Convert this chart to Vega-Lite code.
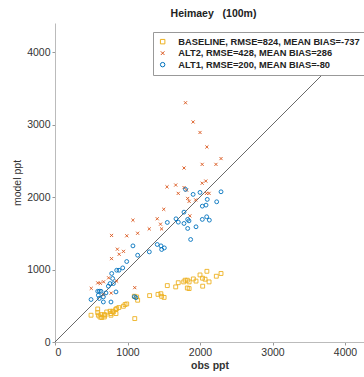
{
  "$schema": "https://vega.github.io/schema/vega-lite/v6.json",
  "width": 309,
  "height": 319,
  "autosize": {"type": "none"},
  "padding": {"left": 55, "top": 23, "right": 0, "bottom": 35},
  "background": "white",
  "title": {
    "text": "Heimaey\u00a0\u00a0\u00a0(100m)",
    "font": "Liberation Sans",
    "fontSize": 10.5,
    "fontWeight": "bold",
    "color": "#222",
    "anchor": "middle",
    "dx": 4,
    "offset": 4
  },
  "config": {
    "view": {"stroke": null},
    "axis": {
      "labelFont": "Liberation Sans",
      "labelFontSize": 10.5,
      "labelColor": "#333",
      "titleFont": "Liberation Sans",
      "titleFontSize": 10.5,
      "titleFontWeight": "bold",
      "titleColor": "#333",
      "domainColor": "#bbb",
      "tickColor": "#999",
      "grid": false,
      "format": "d"
    }
  },
  "datasets": {
    "pts": [
      {"series": "BASELINE, RMSE=824, MEAN BIAS=-737", "obs": 2290, "model": 945},
      {"series": "BASELINE, RMSE=824, MEAN BIAS=-737", "obs": 2225, "model": 907},
      {"series": "BASELINE, RMSE=824, MEAN BIAS=-737", "obs": 2095, "model": 975},
      {"series": "BASELINE, RMSE=824, MEAN BIAS=-737", "obs": 2000, "model": 925},
      {"series": "BASELINE, RMSE=824, MEAN BIAS=-737", "obs": 2035, "model": 880},
      {"series": "BASELINE, RMSE=824, MEAN BIAS=-737", "obs": 2070, "model": 866},
      {"series": "BASELINE, RMSE=824, MEAN BIAS=-737", "obs": 2125, "model": 829},
      {"series": "BASELINE, RMSE=824, MEAN BIAS=-737", "obs": 2037, "model": 770},
      {"series": "BASELINE, RMSE=824, MEAN BIAS=-737", "obs": 1908, "model": 870},
      {"series": "BASELINE, RMSE=824, MEAN BIAS=-737", "obs": 1945, "model": 840},
      {"series": "BASELINE, RMSE=824, MEAN BIAS=-737", "obs": 1825, "model": 852},
      {"series": "BASELINE, RMSE=824, MEAN BIAS=-737", "obs": 1795, "model": 852},
      {"series": "BASELINE, RMSE=824, MEAN BIAS=-737", "obs": 1775, "model": 829},
      {"series": "BASELINE, RMSE=824, MEAN BIAS=-737", "obs": 1850, "model": 829},
      {"series": "BASELINE, RMSE=824, MEAN BIAS=-737", "obs": 1850, "model": 737},
      {"series": "BASELINE, RMSE=824, MEAN BIAS=-737", "obs": 1825, "model": 745},
      {"series": "BASELINE, RMSE=824, MEAN BIAS=-737", "obs": 1700, "model": 818},
      {"series": "BASELINE, RMSE=824, MEAN BIAS=-737", "obs": 1665, "model": 760},
      {"series": "BASELINE, RMSE=824, MEAN BIAS=-737", "obs": 1549, "model": 778},
      {"series": "BASELINE, RMSE=824, MEAN BIAS=-737", "obs": 1420, "model": 657},
      {"series": "BASELINE, RMSE=824, MEAN BIAS=-737", "obs": 1460, "model": 666},
      {"series": "BASELINE, RMSE=824, MEAN BIAS=-737", "obs": 1471, "model": 630},
      {"series": "BASELINE, RMSE=824, MEAN BIAS=-737", "obs": 1505, "model": 615},
      {"series": "BASELINE, RMSE=824, MEAN BIAS=-737", "obs": 1305, "model": 640},
      {"series": "BASELINE, RMSE=824, MEAN BIAS=-737", "obs": 1140, "model": 576},
      {"series": "BASELINE, RMSE=824, MEAN BIAS=-737", "obs": 1100, "model": 323},
      {"series": "BASELINE, RMSE=824, MEAN BIAS=-737", "obs": 1126, "model": 622},
      {"series": "BASELINE, RMSE=824, MEAN BIAS=-737", "obs": 1094, "model": 631},
      {"series": "BASELINE, RMSE=824, MEAN BIAS=-737", "obs": 989, "model": 525},
      {"series": "BASELINE, RMSE=824, MEAN BIAS=-737", "obs": 966, "model": 516},
      {"series": "BASELINE, RMSE=824, MEAN BIAS=-737", "obs": 943, "model": 493},
      {"series": "BASELINE, RMSE=824, MEAN BIAS=-737", "obs": 880, "model": 475},
      {"series": "BASELINE, RMSE=824, MEAN BIAS=-737", "obs": 851, "model": 461},
      {"series": "BASELINE, RMSE=824, MEAN BIAS=-737", "obs": 837, "model": 447},
      {"series": "BASELINE, RMSE=824, MEAN BIAS=-737", "obs": 795, "model": 424},
      {"series": "BASELINE, RMSE=824, MEAN BIAS=-737", "obs": 805, "model": 414},
      {"series": "BASELINE, RMSE=824, MEAN BIAS=-737", "obs": 772, "model": 392},
      {"series": "BASELINE, RMSE=824, MEAN BIAS=-737", "obs": 841, "model": 392},
      {"series": "BASELINE, RMSE=824, MEAN BIAS=-737", "obs": 759, "model": 424},
      {"series": "BASELINE, RMSE=824, MEAN BIAS=-737", "obs": 713, "model": 414},
      {"series": "BASELINE, RMSE=824, MEAN BIAS=-737", "obs": 690, "model": 369},
      {"series": "BASELINE, RMSE=824, MEAN BIAS=-737", "obs": 680, "model": 378},
      {"series": "BASELINE, RMSE=824, MEAN BIAS=-737", "obs": 634, "model": 378},
      {"series": "BASELINE, RMSE=824, MEAN BIAS=-737", "obs": 589, "model": 406},
      {"series": "BASELINE, RMSE=824, MEAN BIAS=-737", "obs": 589, "model": 455},
      {"series": "BASELINE, RMSE=824, MEAN BIAS=-737", "obs": 497, "model": 369},
      {"series": "BASELINE, RMSE=824, MEAN BIAS=-737", "obs": 598, "model": 369},
      {"series": "BASELINE, RMSE=824, MEAN BIAS=-737", "obs": 620, "model": 345},
      {"series": "BASELINE, RMSE=824, MEAN BIAS=-737", "obs": 644, "model": 337},
      {"series": "BASELINE, RMSE=824, MEAN BIAS=-737", "obs": 680, "model": 345},
      {"series": "BASELINE, RMSE=824, MEAN BIAS=-737", "obs": 772, "model": 369},

      {"series": "ALT2, RMSE=428, MEAN BIAS=286", "obs": 1800, "model": 3300},
      {"series": "ALT2, RMSE=428, MEAN BIAS=286", "obs": 1905, "model": 3035},
      {"series": "ALT2, RMSE=428, MEAN BIAS=286", "obs": 2000, "model": 2890},
      {"series": "ALT2, RMSE=428, MEAN BIAS=286", "obs": 2095, "model": 2690},
      {"series": "ALT2, RMSE=428, MEAN BIAS=286", "obs": 2290, "model": 2530},
      {"series": "ALT2, RMSE=428, MEAN BIAS=286", "obs": 2030, "model": 2450},
      {"series": "ALT2, RMSE=428, MEAN BIAS=286", "obs": 2220, "model": 2450},
      {"series": "ALT2, RMSE=428, MEAN BIAS=286", "obs": 1780, "model": 2400},
      {"series": "ALT2, RMSE=428, MEAN BIAS=286", "obs": 1545, "model": 2140},
      {"series": "ALT2, RMSE=428, MEAN BIAS=286", "obs": 1665, "model": 2165},
      {"series": "ALT2, RMSE=428, MEAN BIAS=286", "obs": 1700, "model": 2050},
      {"series": "ALT2, RMSE=428, MEAN BIAS=286", "obs": 1780, "model": 2130},
      {"series": "ALT2, RMSE=428, MEAN BIAS=286", "obs": 1815, "model": 2095},
      {"series": "ALT2, RMSE=428, MEAN BIAS=286", "obs": 2030, "model": 2190},
      {"series": "ALT2, RMSE=428, MEAN BIAS=286", "obs": 2080, "model": 2220},
      {"series": "ALT2, RMSE=428, MEAN BIAS=286", "obs": 2090, "model": 2050},
      {"series": "ALT2, RMSE=428, MEAN BIAS=286", "obs": 2125, "model": 2050},
      {"series": "ALT2, RMSE=428, MEAN BIAS=286", "obs": 1830, "model": 1980},
      {"series": "ALT2, RMSE=428, MEAN BIAS=286", "obs": 1850, "model": 1940},
      {"series": "ALT2, RMSE=428, MEAN BIAS=286", "obs": 1940, "model": 1960},
      {"series": "ALT2, RMSE=428, MEAN BIAS=286", "obs": 1500, "model": 1830},
      {"series": "ALT2, RMSE=428, MEAN BIAS=286", "obs": 1075, "model": 1680},
      {"series": "ALT2, RMSE=428, MEAN BIAS=286", "obs": 1410, "model": 1700},
      {"series": "ALT2, RMSE=428, MEAN BIAS=286", "obs": 1455, "model": 1625},
      {"series": "ALT2, RMSE=428, MEAN BIAS=286", "obs": 1470, "model": 1560},
      {"series": "ALT2, RMSE=428, MEAN BIAS=286", "obs": 1300, "model": 1560},
      {"series": "ALT2, RMSE=428, MEAN BIAS=286", "obs": 1860, "model": 1740},
      {"series": "ALT2, RMSE=428, MEAN BIAS=286", "obs": 1140, "model": 1500},
      {"series": "ALT2, RMSE=428, MEAN BIAS=286", "obs": 990, "model": 1465},
      {"series": "ALT2, RMSE=428, MEAN BIAS=286", "obs": 780, "model": 1470},
      {"series": "ALT2, RMSE=428, MEAN BIAS=286", "obs": 860, "model": 1280},
      {"series": "ALT2, RMSE=428, MEAN BIAS=286", "obs": 945, "model": 1250},
      {"series": "ALT2, RMSE=428, MEAN BIAS=286", "obs": 885, "model": 1210},
      {"series": "ALT2, RMSE=428, MEAN BIAS=286", "obs": 780, "model": 1150},
      {"series": "ALT2, RMSE=428, MEAN BIAS=286", "obs": 590, "model": 815},
      {"series": "ALT2, RMSE=428, MEAN BIAS=286", "obs": 625, "model": 810},
      {"series": "ALT2, RMSE=428, MEAN BIAS=286", "obs": 670, "model": 830},
      {"series": "ALT2, RMSE=428, MEAN BIAS=286", "obs": 500, "model": 740},
      {"series": "ALT2, RMSE=428, MEAN BIAS=286", "obs": 775, "model": 675},
      {"series": "ALT2, RMSE=428, MEAN BIAS=286", "obs": 850, "model": 840},
      {"series": "ALT2, RMSE=428, MEAN BIAS=286", "obs": 1100, "model": 750},
      {"series": "ALT2, RMSE=428, MEAN BIAS=286", "obs": 740, "model": 885},
      {"series": "ALT2, RMSE=428, MEAN BIAS=286", "obs": 670, "model": 650},

      {"series": "ALT1, RMSE=200, MEAN BIAS=-80", "obs": 1800, "model": 2105},
      {"series": "ALT1, RMSE=200, MEAN BIAS=-80", "obs": 1905, "model": 2036},
      {"series": "ALT1, RMSE=200, MEAN BIAS=-80", "obs": 2000, "model": 2063},
      {"series": "ALT1, RMSE=200, MEAN BIAS=-80", "obs": 2100, "model": 1967},
      {"series": "ALT1, RMSE=200, MEAN BIAS=-80", "obs": 2290, "model": 2072},
      {"series": "ALT1, RMSE=200, MEAN BIAS=-80", "obs": 2230, "model": 1934},
      {"series": "ALT1, RMSE=200, MEAN BIAS=-80", "obs": 2032, "model": 1874},
      {"series": "ALT1, RMSE=200, MEAN BIAS=-80", "obs": 2083, "model": 1888},
      {"series": "ALT1, RMSE=200, MEAN BIAS=-80", "obs": 1779, "model": 1791},
      {"series": "ALT1, RMSE=200, MEAN BIAS=-80", "obs": 1669, "model": 1699},
      {"series": "ALT1, RMSE=200, MEAN BIAS=-80", "obs": 1549, "model": 1649},
      {"series": "ALT1, RMSE=200, MEAN BIAS=-80", "obs": 1701, "model": 1653},
      {"series": "ALT1, RMSE=200, MEAN BIAS=-80", "obs": 1779, "model": 1635},
      {"series": "ALT1, RMSE=200, MEAN BIAS=-80", "obs": 1830, "model": 1691},
      {"series": "ALT1, RMSE=200, MEAN BIAS=-80", "obs": 1848, "model": 1671},
      {"series": "ALT1, RMSE=200, MEAN BIAS=-80", "obs": 2032, "model": 1691},
      {"series": "ALT1, RMSE=200, MEAN BIAS=-80", "obs": 2092, "model": 1727},
      {"series": "ALT1, RMSE=200, MEAN BIAS=-80", "obs": 2129, "model": 1681},
      {"series": "ALT1, RMSE=200, MEAN BIAS=-80", "obs": 1830, "model": 1566},
      {"series": "ALT1, RMSE=200, MEAN BIAS=-80", "obs": 1945, "model": 1589},
      {"series": "ALT1, RMSE=200, MEAN BIAS=-80", "obs": 1871, "model": 1414},
      {"series": "ALT1, RMSE=200, MEAN BIAS=-80", "obs": 1075, "model": 1326},
      {"series": "ALT1, RMSE=200, MEAN BIAS=-80", "obs": 1410, "model": 1345},
      {"series": "ALT1, RMSE=200, MEAN BIAS=-80", "obs": 1462, "model": 1326},
      {"series": "ALT1, RMSE=200, MEAN BIAS=-80", "obs": 1508, "model": 1298},
      {"series": "ALT1, RMSE=200, MEAN BIAS=-80", "obs": 1471, "model": 1276},
      {"series": "ALT1, RMSE=200, MEAN BIAS=-80", "obs": 1301, "model": 1243},
      {"series": "ALT1, RMSE=200, MEAN BIAS=-80", "obs": 1140, "model": 1197},
      {"series": "ALT1, RMSE=200, MEAN BIAS=-80", "obs": 989, "model": 1110},
      {"series": "ALT1, RMSE=200, MEAN BIAS=-80", "obs": 934, "model": 1022},
      {"series": "ALT1, RMSE=200, MEAN BIAS=-80", "obs": 883, "model": 990},
      {"series": "ALT1, RMSE=200, MEAN BIAS=-80", "obs": 851, "model": 990},
      {"series": "ALT1, RMSE=200, MEAN BIAS=-80", "obs": 782, "model": 945},
      {"series": "ALT1, RMSE=200, MEAN BIAS=-80", "obs": 795, "model": 876},
      {"series": "ALT1, RMSE=200, MEAN BIAS=-80", "obs": 759, "model": 806},
      {"series": "ALT1, RMSE=200, MEAN BIAS=-80", "obs": 805, "model": 806},
      {"series": "ALT1, RMSE=200, MEAN BIAS=-80", "obs": 736, "model": 770},
      {"series": "ALT1, RMSE=200, MEAN BIAS=-80", "obs": 841, "model": 691},
      {"series": "ALT1, RMSE=200, MEAN BIAS=-80", "obs": 703, "model": 677},
      {"series": "ALT1, RMSE=200, MEAN BIAS=-80", "obs": 611, "model": 700},
      {"series": "ALT1, RMSE=200, MEAN BIAS=-80", "obs": 589, "model": 700},
      {"series": "ALT1, RMSE=200, MEAN BIAS=-80", "obs": 634, "model": 700},
      {"series": "ALT1, RMSE=200, MEAN BIAS=-80", "obs": 598, "model": 645},
      {"series": "ALT1, RMSE=200, MEAN BIAS=-80", "obs": 497, "model": 586},
      {"series": "ALT1, RMSE=200, MEAN BIAS=-80", "obs": 667, "model": 622},
      {"series": "ALT1, RMSE=200, MEAN BIAS=-80", "obs": 667, "model": 552},
      {"series": "ALT1, RMSE=200, MEAN BIAS=-80", "obs": 772, "model": 552},
      {"series": "ALT1, RMSE=200, MEAN BIAS=-80", "obs": 611, "model": 600},
      {"series": "ALT1, RMSE=200, MEAN BIAS=-80", "obs": 1094, "model": 625},
      {"series": "ALT1, RMSE=200, MEAN BIAS=-80", "obs": 1115, "model": 612}
    ],
    "diag": [
      {"obs": 0, "model": 0},
      {"obs": 4400, "model": 4400}
    ]
  },
  "layer": [
    {
      "data": {"name": "diag"},
      "mark": {"type": "line", "color": "#444", "strokeWidth": 0.8, "clip": true},
      "encoding": {
        "x": {"field": "obs", "type": "quantitative"},
        "y": {"field": "model", "type": "quantitative"}
      }
    },
    {
      "data": {"name": "pts"},
      "mark": {"type": "point", "filled": false, "strokeWidth": 0.9, "size": 15, "opacity": 1, "clip": true},
      "encoding": {
        "x": {
          "field": "obs",
          "type": "quantitative",
          "scale": {"domain": [0, 4262], "nice": false, "zero": false},
          "axis": {
            "title": "obs ppt",
            "values": [0, 500, 1000, 1500, 2000, 2500, 3000, 3500, 4000],
            "tickSize": 3,
            "labelPadding": 2,
            "titlePadding": 3
          }
        },
        "y": {
          "field": "model",
          "type": "quantitative",
          "scale": {"domain": [0, 4400], "nice": false, "zero": false},
          "axis": {
            "title": "model ppt",
            "titleFontWeight": "normal",
            "values": [0, 500, 1000, 1500, 2000, 2500, 3000, 3500, 4000],
            "tickSize": 3,
            "labelPadding": 2,
            "titlePadding": 4
          }
        },
        "color": {
          "field": "series",
          "type": "nominal",
          "sort": null,
          "scale": {
            "domain": ["BASELINE, RMSE=824, MEAN BIAS=-737", "ALT2, RMSE=428, MEAN BIAS=286", "ALT1, RMSE=200, MEAN BIAS=-80"],
            "range": ["#EDB120", "#D95319", "#0072BD"]
          },
          "legend": {
            "title": null,
            "orient": "none",
            "legendX": 98,
            "legendY": 9,
            "fillColor": "white",
            "strokeColor": "#999",
            "padding": 5,
            "rowPadding": 1.5,
            "symbolSize": 20,
            "symbolStrokeWidth": 1,
            "labelFont": "Liberation Sans",
            "labelFontSize": 9.3,
            "labelFontWeight": "bold",
            "labelColor": "#222",
            "labelOffset": 11,
            "labelLimit": 400
          }
        },
        "shape": {
          "field": "series",
          "type": "nominal",
          "sort": null,
          "scale": {
            "domain": ["BASELINE, RMSE=824, MEAN BIAS=-737", "ALT2, RMSE=428, MEAN BIAS=286", "ALT1, RMSE=200, MEAN BIAS=-80"],
            "range": ["square", "M-0.8,-0.8L0.8,0.8M-0.8,0.8L0.8,-0.8", "circle"]
          },
          "legend": null
        }
      }
    }
  ]
}
